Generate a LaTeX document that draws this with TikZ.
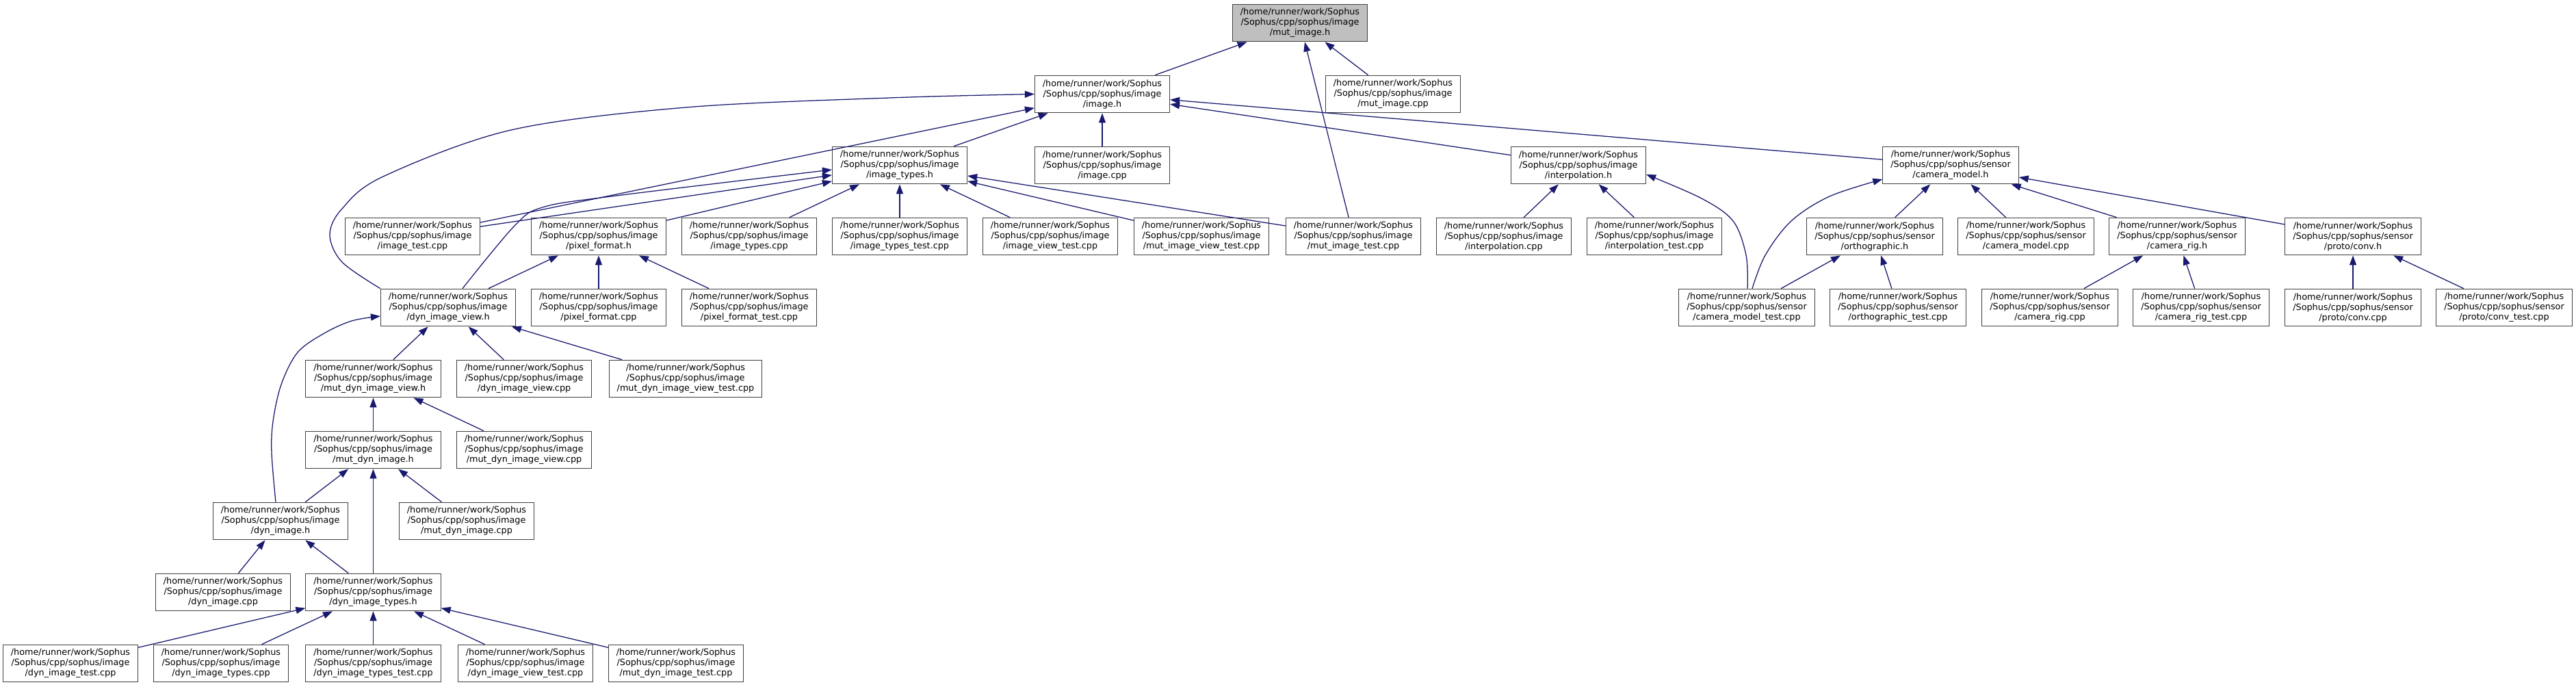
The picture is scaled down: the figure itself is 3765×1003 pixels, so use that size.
\documentclass[tikz,border=0pt]{standalone}
\usepackage{fontspec}
\setmainfont{DejaVu Sans}
\usetikzlibrary{arrows.meta,calc}
\definecolor{edgeblue}{RGB}{25,25,112}
\definecolor{nodeborder}{RGB}{64,64,64}
\definecolor{rootfill}{RGB}{191,191,191}
\newcommand\imgf[1]{/home/runner/work/Sophus\\/Sophus/cpp/sophus/image\\/#1}
\newcommand\senf[1]{/home/runner/work/Sophus\\/Sophus/cpp/sophus/sensor\\/#1}
\begin{document}
\begin{tikzpicture}[x=0.75pt,y=-0.75pt,
  file/.style={draw=nodeborder, line width=0.8pt, fill=white, align=center,
    inner xsep=8.6pt, inner ysep=0pt, minimum height=41pt,
    font=\fontsize{9.6pt}{11.25pt}\selectfont},
  rootfile/.style={file, fill=rootfill},
  dep/.style={draw=edgeblue, line width=0.95pt, -{Triangle[length=10.5pt,width=7.5pt]}},
  sm/.style={smooth, tension=0.55}]
\fill[white] (0,0) rectangle (3765,1003);
\useasboundingbox (0,0) rectangle (3765,1003);
\def\ra{33.5}\def\rb{137.5}\def\rc{241.5}\def\rd{345.5}\def\re{449.5}
\def\rf{553.5}\def\rg{657.5}\def\rh{761.5}\def\ri{865.5}\def\rj{969.5}
% row 1
\node[rootfile] (mutimageh) at (1900,\ra) {\imgf{mut\_image.h}};
% row 2
\node[file] (imageh) at (1611,\rb) {\imgf{image.h}};
\node[file] (mutimagecpp) at (2036,\rb) {\imgf{mut\_image.cpp}};
% row 3
\node[file] (imagetypesh) at (1315,\rc) {\imgf{image\_types.h}};
\node[file] (imagecpp) at (1611,\rc) {\imgf{image.cpp}};
\node[file] (interph) at (2307,\rc) {\imgf{interpolation.h}};
\node[file] (cammodelh) at (2851,\rc) {\senf{camera\_model.h}};
% row 4
\node[file] (imagetestcpp) at (603,\rd) {\imgf{image\_test.cpp}};
\node[file] (pixelformath) at (875,\rd) {\imgf{pixel\_format.h}};
\node[file] (imagetypescpp) at (1095,\rd) {\imgf{image\_types.cpp}};
\node[file] (imagetypestestcpp) at (1315,\rd) {\imgf{image\_types\_test.cpp}};
\node[file] (imageviewtestcpp) at (1535,\rd) {\imgf{image\_view\_test.cpp}};
\node[file] (mutimageviewtestcpp) at (1756,\rd) {\imgf{mut\_image\_view\_test.cpp}};
\node[file] (mutimagetestcpp) at (1978,\rd) {\imgf{mut\_image\_test.cpp}};
\node[file] (interpcpp) at (2198,\rd) {\imgf{interpolation.cpp}};
\node[file] (interptestcpp) at (2418,\rd) {\imgf{interpolation\_test.cpp}};
\node[file] (orthoh) at (2740,\rd) {\senf{orthographic.h}};
\node[file] (cammodelcpp) at (2961,\rd) {\senf{camera\_model.cpp}};
\node[file] (camrigh) at (3182,\rd) {\senf{camera\_rig.h}};
\node[file] (convh) at (3439,\rd) {\senf{proto/conv.h}};
% row 5
\node[file] (dynimageviewh) at (655,\re) {\imgf{dyn\_image\_view.h}};
\node[file] (pixelformatcpp) at (875,\re) {\imgf{pixel\_format.cpp}};
\node[file] (pixelformattestcpp) at (1095,\re) {\imgf{pixel\_format\_test.cpp}};
\node[file] (cammodeltestcpp) at (2553,\re) {\senf{camera\_model\_test.cpp}};
\node[file] (orthotestcpp) at (2774,\re) {\senf{orthographic\_test.cpp}};
\node[file] (camrigcpp) at (2996,\re) {\senf{camera\_rig.cpp}};
\node[file] (camrigtestcpp) at (3217,\re) {\senf{camera\_rig\_test.cpp}};
\node[file] (convcpp) at (3439,\re) {\senf{proto/conv.cpp}};
\node[file] (convtestcpp) at (3660,\re) {\senf{proto/conv\_test.cpp}};
% row 6
\node[file] (mutdynimageviewh) at (545.5,\rf) {\imgf{mut\_dyn\_image\_view.h}};
\node[file] (dynimageviewcpp) at (766,\rf) {\imgf{dyn\_image\_view.cpp}};
\node[file] (mutdynimageviewtestcpp) at (1002,\rf) {\imgf{mut\_dyn\_image\_view\_test.cpp}};
% row 7
\node[file] (mutdynimageh) at (545.5,\rg) {\imgf{mut\_dyn\_image.h}};
\node[file] (mutdynimageviewcpp) at (766,\rg) {\imgf{mut\_dyn\_image\_view.cpp}};
% row 8
\node[file] (dynimageh) at (410,\rh) {\imgf{dyn\_image.h}};
\node[file] (mutdynimagecpp) at (682,\rh) {\imgf{mut\_dyn\_image.cpp}};
% row 9
\node[file] (dynimagecpp) at (326,\ri) {\imgf{dyn\_image.cpp}};
\node[file] (dynimagetypesh) at (545.5,\ri) {\imgf{dyn\_image\_types.h}};
% row 10
\node[file] (dynimagetestcpp) at (103,\rj) {\imgf{dyn\_image\_test.cpp}};
\node[file] (dynimagetypescpp) at (323,\rj) {\imgf{dyn\_image\_types.cpp}};
\node[file] (dynimagetypestestcpp) at (545.5,\rj) {\imgf{dyn\_image\_types\_test.cpp}};
\node[file] (dynimageviewtestcpp) at (768,\rj) {\imgf{dyn\_image\_view\_test.cpp}};
\node[file] (mutdynimagetestcpp) at (988,\rj) {\imgf{mut\_dyn\_image\_test.cpp}};

% straight edges
\foreach \s/\t in {imageh/mutimageh, mutimagecpp/mutimageh, mutimagetestcpp/mutimageh,
  imagetypesh/imageh, imagecpp/imageh, interph/imageh, cammodelh/imageh, imagetestcpp/imageh,
  imagetestcpp/imagetypesh, pixelformath/imagetypesh, imagetypescpp/imagetypesh,
  imagetypestestcpp/imagetypesh, imageviewtestcpp/imagetypesh, mutimageviewtestcpp/imagetypesh,
  mutimagetestcpp/imagetypesh,
  dynimageviewh/pixelformath, pixelformatcpp/pixelformath, pixelformattestcpp/pixelformath,
  interpcpp/interph, interptestcpp/interph,
  orthoh/cammodelh, cammodelcpp/cammodelh, camrigh/cammodelh, convh/cammodelh,
  cammodeltestcpp/orthoh, orthotestcpp/orthoh, camrigcpp/camrigh, camrigtestcpp/camrigh,
  convcpp/convh, convtestcpp/convh,
  mutdynimageviewh/dynimageviewh, dynimageviewcpp/dynimageviewh, mutdynimageviewtestcpp/dynimageviewh,
  mutdynimageh/mutdynimageviewh, mutdynimageviewcpp/mutdynimageviewh,
  dynimageh/mutdynimageh, dynimagetypesh/mutdynimageh, mutdynimagecpp/mutdynimageh,
  dynimagecpp/dynimageh, dynimagetypesh/dynimageh,
  dynimagetestcpp/dynimagetypesh, dynimagetypescpp/dynimagetypesh, dynimagetypestestcpp/dynimagetypesh,
  dynimageviewtestcpp/dynimagetypesh, mutdynimagetestcpp/dynimagetypesh}
  \draw[dep] (\s) -- (\t);

% curved edges
\coordinate (c2s) at ($(dynimageviewh.north)+(21,0)$);
\coordinate (c2e) at ($(imagetypesh.west)+(0,6.5)$);
\coordinate (c3s) at ($(dynimageh.north)+(-7,0)$);
\coordinate (c3e) at ($(dynimageviewh.west)+(0,12.5)$);
\coordinate (c4s) at ($(cammodeltestcpp.north)+(1,0)$);
\coordinate (c4e) at ($(interph.east)+(0,13.5)$);
\coordinate (c5s) at ($(cammodeltestcpp.north)+(8,0)$);
\coordinate (c5e) at ($(cammodelh.west)+(0,20.5)$);
\draw[dep] plot[sm] coordinates {(dynimageviewh.north west) (500,383) (482,343) (500,305) (560,258)
  (747,190) (1002,157) (1300,143) (imageh.west)};
\draw[dep] plot[sm] coordinates {(c2s) (752,330) (793,303) (893,287) (c2e)};
\draw[dep] plot[sm] coordinates {(c3s) (397,662) (399,616) (411,562) (435,515) (474,487) (514,469) (c3e)};
\draw[dep] plot[sm] coordinates {(c4s) (2552,373) (2533,323) (2487,290) (c4e)};
\draw[dep] plot[sm] coordinates {(c5s) (2580,373) (2618,323) (2674,287) (c5e)};
\end{tikzpicture}
\end{document}
